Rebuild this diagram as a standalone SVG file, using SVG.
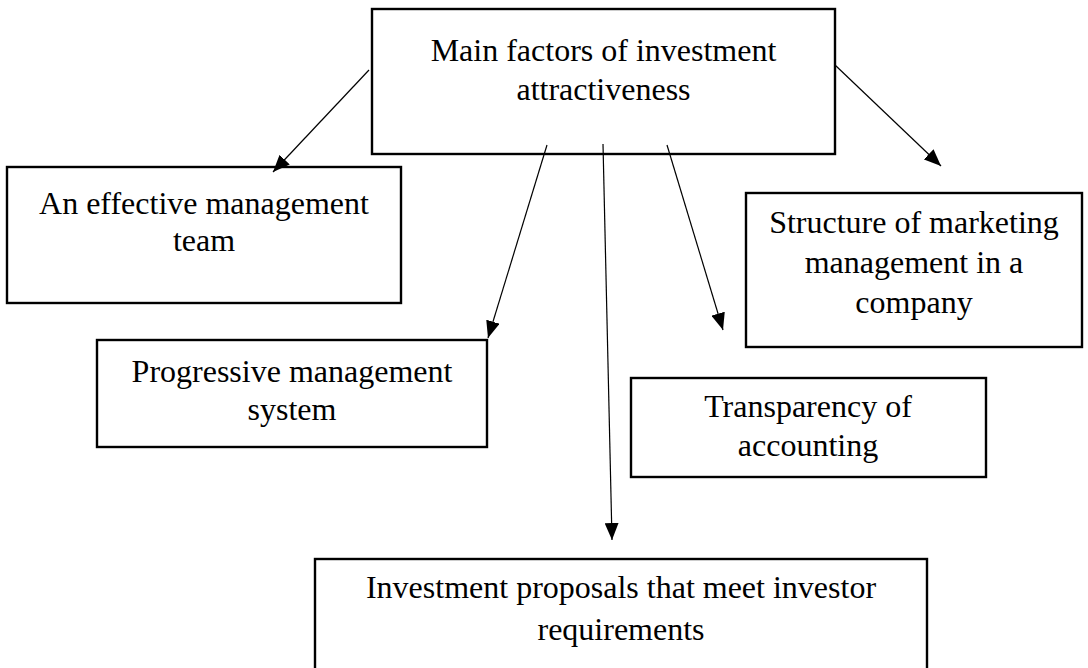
<svg xmlns="http://www.w3.org/2000/svg" width="1088" height="668" viewBox="0 0 1088 668">
  <style>
    .box { fill: #ffffff; stroke: #000000; stroke-width: 2.4; }
    .label { font-family: "Liberation Serif", "Times New Roman", serif; font-size: 32px; fill: #000000; text-anchor: middle; }
    .link { stroke: #000000; stroke-width: 1.2; fill: none; marker-end: url(#head); }
  </style>
  <defs>
    <marker id="head" markerUnits="userSpaceOnUse" markerWidth="18" markerHeight="14" refX="17" refY="7" orient="auto">
      <path d="M0,0 L17,7 L0,14 z" fill="#000000"/>
    </marker>
  </defs>
  <rect width="1088" height="668" fill="#ffffff"/>

  <g id="main-factors">
    <rect class="box" x="372" y="9" width="463" height="145"/>
    <text class="label" x="603.5" y="61">Main factors of investment</text>
    <text class="label" x="603.5" y="100">attractiveness</text>
  </g>

  <g id="management-team">
    <rect class="box" x="7" y="167" width="394" height="136"/>
    <text class="label" x="204" y="214">An effective management</text>
    <text class="label" x="204" y="251">team</text>
  </g>

  <g id="management-system">
    <rect class="box" x="97" y="340" width="390" height="107"/>
    <text class="label" x="292" y="382">Progressive management</text>
    <text class="label" x="292" y="420">system</text>
  </g>

  <g id="marketing-structure">
    <rect class="box" x="746" y="193" width="336" height="154"/>
    <text class="label" x="914" y="233">Structure of marketing</text>
    <text class="label" x="914" y="273">management in a</text>
    <text class="label" x="914" y="313">company</text>
  </g>

  <g id="accounting-transparency">
    <rect class="box" x="631" y="378" width="355" height="99"/>
    <text class="label" x="808" y="417">Transparency of</text>
    <text class="label" x="808" y="456">accounting</text>
  </g>

  <g id="investment-proposals">
    <rect class="box" x="315" y="559" width="612" height="120"/>
    <text class="label" x="621" y="598">Investment proposals that meet investor</text>
    <text class="label" x="621" y="640">requirements</text>
  </g>

  <g id="connectors">
    <line class="link" x1="369" y1="70" x2="273" y2="172"/>
    <line class="link" x1="547" y1="145" x2="488" y2="338"/>
    <line class="link" x1="603" y1="144" x2="612" y2="540"/>
    <line class="link" x1="667" y1="145" x2="723" y2="330"/>
    <line class="link" x1="835" y1="65" x2="941" y2="166"/>
  </g>
</svg>
